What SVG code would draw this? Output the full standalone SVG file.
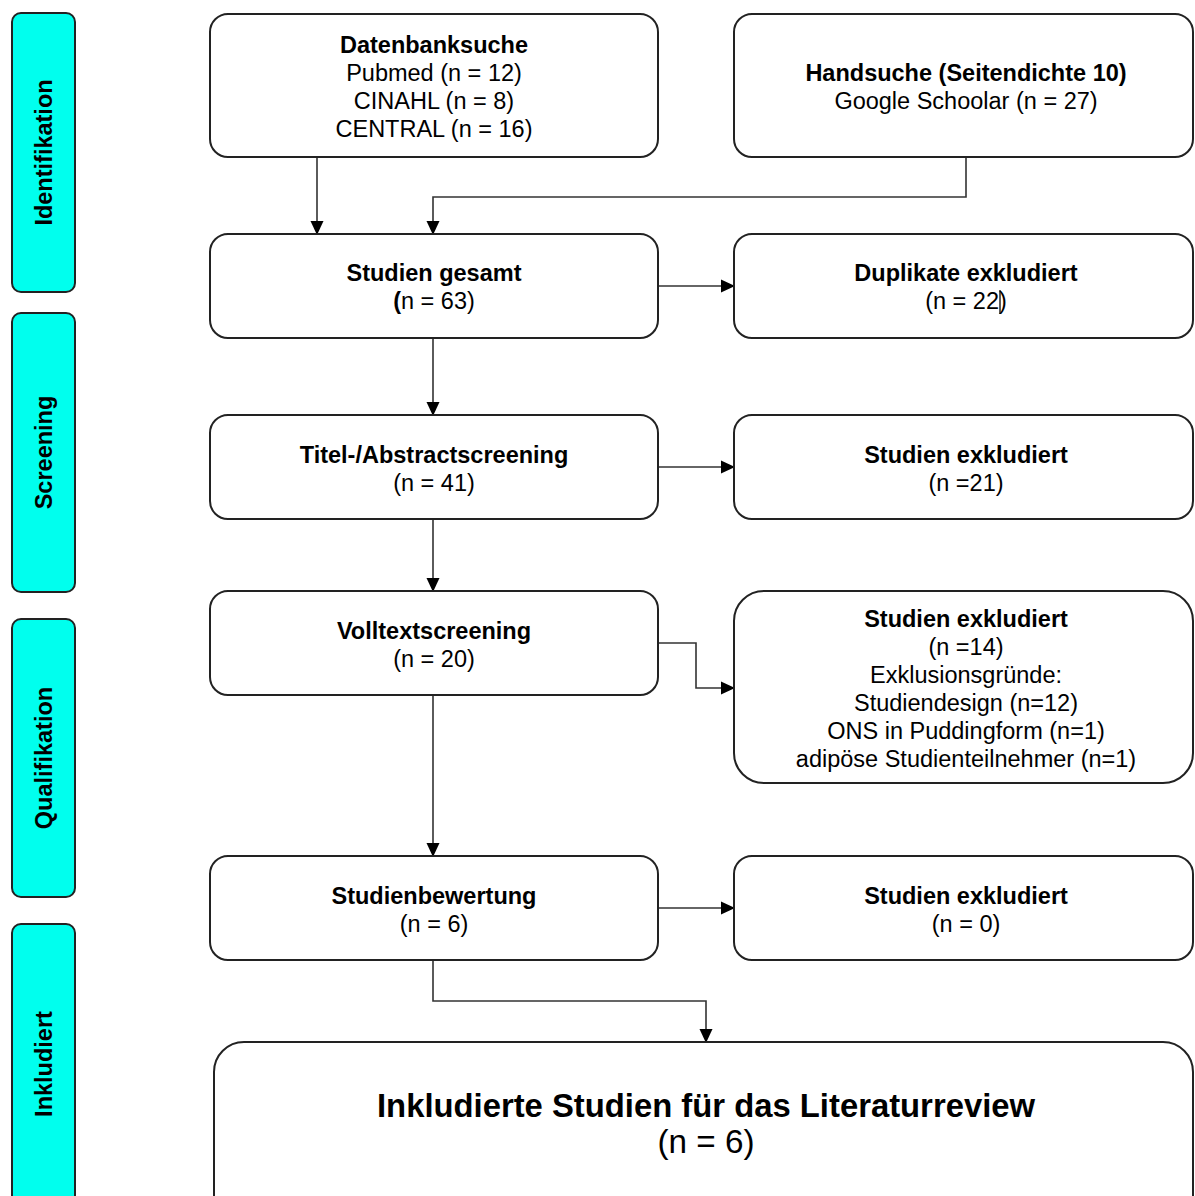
<svg xmlns="http://www.w3.org/2000/svg" width="1195" height="1196" viewBox="0 0 1195 1196">
<defs>
<style>
.side{fill:#00ffee;stroke:#222;stroke-width:2}
.box{fill:#fff;stroke:#222;stroke-width:2}
.t{font-family:"Liberation Sans",Arial,sans-serif;font-size:23.5px;fill:#000;text-anchor:middle}
.b{font-weight:bold}
.st{font-family:"Liberation Sans",Arial,sans-serif;font-size:23.5px;font-weight:bold;fill:#000;text-anchor:middle}
.big{font-family:"Liberation Sans",Arial,sans-serif;font-size:34px;fill:#000;text-anchor:middle}
.c{fill:none;stroke:#333;stroke-width:1.6}
</style>
<marker id="ah" markerWidth="14" markerHeight="14" refX="13" refY="7" orient="auto" markerUnits="userSpaceOnUse">
<path d="M0,0.5 L14,7 L0,13.5 Z" fill="#000"/>
</marker>
</defs>
<rect width="1195" height="1196" fill="#fff"/>

<g id="phase-identifikation">
<rect class="side" x="12" y="13" width="63" height="279" rx="9"/>
<text class="st" transform="translate(52,152.5) rotate(-90)">Identifikation</text>
</g>
<g id="phase-screening">
<rect class="side" x="12" y="313" width="63" height="279" rx="9"/>
<text class="st" transform="translate(52,452.5) rotate(-90)">Screening</text>
</g>
<g id="phase-qualifikation">
<rect class="side" x="12" y="619" width="63" height="278" rx="9"/>
<text class="st" transform="translate(52,758) rotate(-90)">Qualifikation</text>
</g>
<g id="phase-inkludiert">
<rect class="side" x="12" y="924" width="63" height="300" rx="9"/>
<text class="st" transform="translate(52,1064) rotate(-90)">Inkludiert</text>
</g>

<g id="connectors">
<path class="c" d="M317,157 V234" marker-end="url(#ah)"/>
<path class="c" d="M966,157 V197 H433 V234" marker-end="url(#ah)"/>
<path class="c" d="M658,286 H734" marker-end="url(#ah)"/>
<path class="c" d="M433,338 V415" marker-end="url(#ah)"/>
<path class="c" d="M658,467 H734" marker-end="url(#ah)"/>
<path class="c" d="M433,519 V591" marker-end="url(#ah)"/>
<path class="c" d="M658,643 H696 V688 H734" marker-end="url(#ah)"/>
<path class="c" d="M433,695 V856" marker-end="url(#ah)"/>
<path class="c" d="M658,908 H734" marker-end="url(#ah)"/>
<path class="c" d="M433,960 V1001 H706 V1042" marker-end="url(#ah)"/>
</g>

<g id="datenbanksuche">
<rect class="box" x="210" y="14" width="448" height="143" rx="18"/>
<text class="t b" x="434" y="53">Datenbanksuche</text>
<text class="t" x="434" y="81">Pubmed (n = 12)</text>
<text class="t" x="434" y="109">CINAHL (n = 8)</text>
<text class="t" x="434" y="137">CENTRAL (n = 16)</text>
</g>
<g id="handsuche">
<rect class="box" x="734" y="14" width="459" height="143" rx="18"/>
<text class="t b" x="966" y="81">Handsuche (Seitendichte 10)</text>
<text class="t" x="966" y="109">Google Schoolar (n = 27)</text>
</g>
<g id="studien-gesamt">
<rect class="box" x="210" y="234" width="448" height="104" rx="18"/>
<text class="t b" x="434" y="281">Studien gesamt</text>
<text class="t" x="434" y="309"><tspan class="b">(</tspan>n = 63)</text>
</g>
<g id="duplikate">
<rect class="box" x="734" y="234" width="459" height="104" rx="18"/>
<text class="t b" x="966" y="281">Duplikate exkludiert</text>
<text class="t" x="966" y="309">(n = 22)</text>
<line x1="1000" y1="290" x2="1000" y2="314" stroke="#000" stroke-width="1.3"/>
</g>
<g id="titel-abstractscreening">
<rect class="box" x="210" y="415" width="448" height="104" rx="18"/>
<text class="t b" x="434" y="463">Titel-/Abstractscreening</text>
<text class="t" x="434" y="491">(n = 41)</text>
</g>
<g id="studien-exkludiert-21">
<rect class="box" x="734" y="415" width="459" height="104" rx="18"/>
<text class="t b" x="966" y="463">Studien exkludiert</text>
<text class="t" x="966" y="491">(n =21)</text>
</g>
<g id="volltextscreening">
<rect class="box" x="210" y="591" width="448" height="104" rx="18"/>
<text class="t b" x="434" y="639">Volltextscreening</text>
<text class="t" x="434" y="667">(n = 20)</text>
</g>
<g id="studien-exkludiert-14">
<rect class="box" x="734" y="591" width="459" height="192" rx="30"/>
<text class="t b" x="966" y="627">Studien exkludiert</text>
<text class="t" x="966" y="655">(n =14)</text>
<text class="t" x="966" y="683">Exklusionsgründe:</text>
<text class="t" x="966" y="711">Studiendesign (n=12)</text>
<text class="t" x="966" y="739">ONS in Puddingform (n=1)</text>
<text class="t" x="966" y="767">adipöse Studienteilnehmer (n=1)</text>
</g>
<g id="studienbewertung">
<rect class="box" x="210" y="856" width="448" height="104" rx="18"/>
<text class="t b" x="434" y="904">Studienbewertung</text>
<text class="t" x="434" y="932">(n = 6)</text>
</g>
<g id="studien-exkludiert-0">
<rect class="box" x="734" y="856" width="459" height="104" rx="18"/>
<text class="t b" x="966" y="904">Studien exkludiert</text>
<text class="t" x="966" y="932">(n = 0)</text>
</g>
<g id="inkludierte-studien">
<rect class="box" x="214" y="1042" width="979" height="190" rx="30"/>
<text class="big b" x="706" y="1117" textLength="658" lengthAdjust="spacingAndGlyphs">Inkludierte Studien für das Literaturreview</text>
<text class="big" x="706" y="1153" textLength="97" lengthAdjust="spacingAndGlyphs">(n = 6)</text>
</g>
</svg>
